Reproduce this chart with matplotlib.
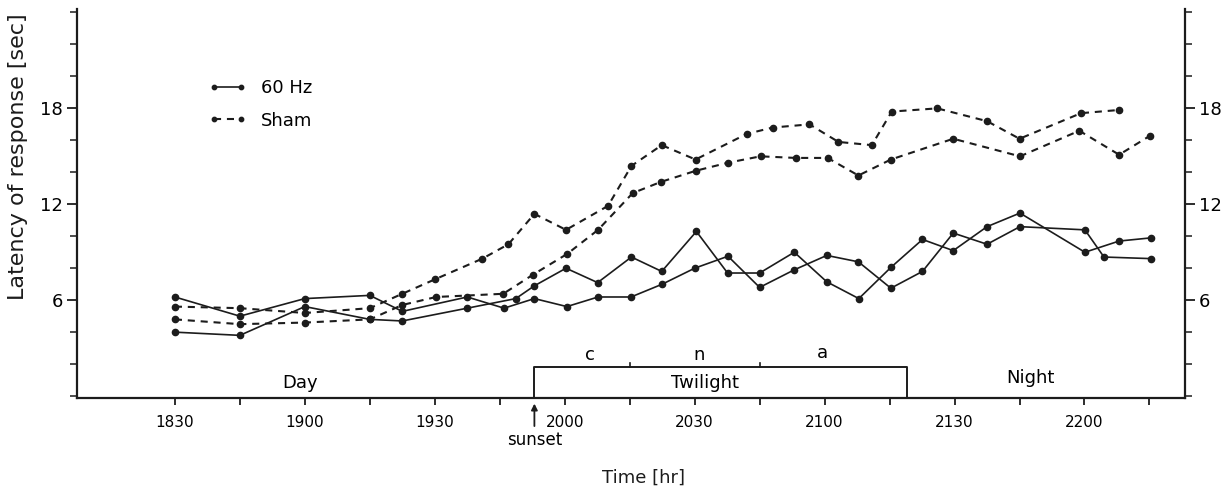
import matplotlib
matplotlib.use("Agg")
import matplotlib.pyplot as plt
from matplotlib.ticker import FixedLocator, MultipleLocator

# time in minutes after 18:00, latency in seconds
HZ_A_T = [30, 45, 60, 75, 82.5, 97.5, 106, 113, 120.5, 127.7, 135.3, 142.5, 150, 157.7,
          165, 173, 180.5, 187.8, 195.3, 202.6, 209.7, 217.5, 225.1, 240.1, 244.5, 255.4]
HZ_A_V = [6.2, 5.0, 6.1, 6.3, 5.3, 6.2, 5.5, 6.1, 5.6, 6.2, 6.2, 7.0, 8.0, 8.75,
          6.8, 7.9, 8.8, 8.4, 6.75, 7.8, 10.2, 9.5, 10.6, 10.4, 8.7, 8.6]

HZ_B_T = [30, 45, 60, 75, 82.5, 97.5, 108.7, 113, 120.3, 127.6, 135.4, 142.4, 150.4, 157.6,
          165, 173, 180.5, 187.9, 195.3, 202.6, 209.7, 217.5, 225.1, 240.1, 248, 255.4]
HZ_B_V = [4.0, 3.8, 5.6, 4.8, 4.7, 5.5, 6.1, 6.9, 8.0, 7.1, 8.7, 7.8, 10.3, 7.7,
          7.7, 9.0, 7.15, 6.1, 8.05, 9.8, 9.1, 10.6, 11.45, 9.0, 9.7, 9.9]

SHAM_A_T = [30, 45, 60, 75, 82.5, 90, 101, 107, 113, 120.3, 130, 135.4, 142.4, 150.2,
            162, 168, 176.5, 183.2, 190.9, 195.5, 206, 217.5, 225, 239.2, 248]
SHAM_A_V = [5.6, 5.5, 5.2, 5.5, 6.4, 7.3, 8.6, 9.5, 11.4, 10.4, 11.9, 14.4, 15.7, 14.8,
            16.4, 16.8, 17.0, 15.9, 15.7, 17.8, 18.0, 17.2, 16.1, 17.7, 17.9]

SHAM_B_T = [30, 45, 60, 75, 82.5, 90.3, 105.8, 112.7, 120.6, 127.7, 135.7, 142.2, 150.3,
            157.7, 165.2, 173.3, 180.7, 187.8, 195.3, 209.7, 225.1, 238.8, 248, 255.2]
SHAM_B_V = [4.8, 4.5, 4.6, 4.8, 5.7, 6.2, 6.4, 7.6, 8.9, 10.4, 12.7, 13.4, 14.1,
            14.6, 15.0, 14.9, 14.9, 13.8, 14.8, 16.1, 15.0, 16.6, 15.1, 16.3]

TIME_TICKS = [30, 60, 90, 120, 150, 180, 210, 240]
TIME_LABELS = ["1830", "1900", "1930", "2000", "2030", "2100", "2130", "2200"]
TIME_MINOR = [45, 75, 105, 135, 165, 195, 225, 255]
Y_TICKS = [6, 12, 18]

SUNSET = 113
CIVIL_END = 135
NAUTICAL_END = 165
TWILIGHT_END = 199

INK = "#1c1c1c"
FONT = "DejaVu Sans"

plt.rcParams["font.family"] = [FONT]

fig = plt.figure(figsize=(12.3, 4.93), dpi=100)
ax = fig.add_axes([0.0626, 0.1917, 0.9008, 0.7895])

solid = dict(color=INK, lw=1.2, marker="o", ms=4.5, ls="-")
dashed = dict(color=INK, lw=1.5, marker="o", ms=4.5, ls=(0, (3.4, 2.8)))

l_hz, = ax.plot(HZ_A_T, HZ_A_V, **solid)
ax.plot(HZ_B_T, HZ_B_V, **solid)
l_sh, = ax.plot(SHAM_A_T, SHAM_A_V, **dashed)
ax.plot(SHAM_B_T, SHAM_B_V, **dashed)

ax.set_xlim(7.4, 263.2)
ax.set_ylim(-0.15, 24.2)

ax.spines["top"].set_visible(False)
for s in ["left", "right", "bottom"]:
    ax.spines[s].set_linewidth(1.6)
    ax.spines[s].set_color(INK)

ax.xaxis.set_major_locator(FixedLocator(TIME_TICKS))
ax.set_xticklabels(TIME_LABELS, fontsize=11)
ax.xaxis.set_minor_locator(FixedLocator(TIME_MINOR))
ax.tick_params(axis="x", which="both", direction="out", length=5, width=1.3,
               color=INK, pad=7)

ax.yaxis.set_major_locator(FixedLocator(Y_TICKS))
ax.yaxis.set_minor_locator(MultipleLocator(2))
ax.tick_params(axis="y", which="both", left=True, right=True,
               labelleft=True, labelright=True, direction="out", color=INK)
ax.tick_params(axis="y", which="major", length=7, width=1.3, labelsize=13, pad=3)
ax.tick_params(axis="y", which="minor", length=5, width=1.1)

ax.set_ylabel("Latency of response [sec]", fontsize=16, color=INK)
ax.yaxis.set_label_coords(-0.044, 0.62)
ax.set_xlabel("Time [hr]", fontsize=13, color=INK)
ax.xaxis.set_label_coords(0.511, -0.18)

# twilight box with civil / nautical / astronomical marks
box_top = 1.8
y0 = ax.get_ylim()[0]
ax.plot([SUNSET, SUNSET, TWILIGHT_END, TWILIGHT_END], [y0, box_top, box_top, y0],
        color=INK, lw=1.4, clip_on=False)
for t in [CIVIL_END, NAUTICAL_END]:
    ax.plot([t, t], [box_top, box_top + 0.3], color=INK, lw=1.2)

ax.text((SUNSET + CIVIL_END) / 2 + 1.8, 2.55, "c", ha="center", va="center", fontsize=13)
ax.text((CIVIL_END + NAUTICAL_END) / 2 + 1, 2.55, "n", ha="center", va="center", fontsize=13)
ax.text((NAUTICAL_END + TWILIGHT_END) / 2 - 2.5, 2.7, "a", ha="center", va="center", fontsize=13)

ax.text(59, 0.8, "Day", ha="center", va="center", fontsize=13)
ax.text(152.5, 0.8, "Twilight", ha="center", va="center", fontsize=13)
ax.text(227.5, 1.15, "Night", ha="center", va="center", fontsize=13)

ax.annotate("", xy=(SUNSET, -0.006), xytext=(SUNSET, -0.078),
            xycoords=("data", "axes fraction"), textcoords=("data", "axes fraction"),
            arrowprops=dict(arrowstyle="-|>", color=INK, lw=1.3, mutation_scale=9),
            annotation_clip=False)
ax.text(SUNSET, -0.107, "sunset", transform=ax.get_xaxis_transform(),
        ha="center", va="center", fontsize=12)

ax.legend([l_hz, l_sh], ["60 Hz", "Sham"], loc="upper left",
          bbox_to_anchor=(0.119, 0.82), frameon=False, fontsize=13,
          numpoints=2, markerscale=0.7, handlelength=2.1, handletextpad=0.8,
          labelspacing=0.8, borderpad=0, borderaxespad=0)

fig.savefig("out.png", dpi=100, facecolor="white")
